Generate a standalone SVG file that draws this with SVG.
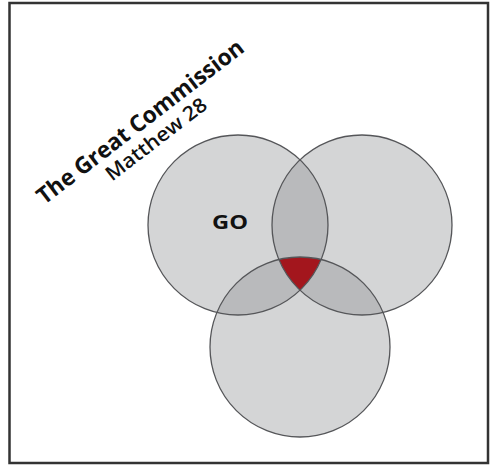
<svg xmlns="http://www.w3.org/2000/svg" width="490" height="466" viewBox="0 0 490 466">
<style>
.c{fill:#8b8c90;fill-opacity:0.37;stroke:none}
.o{fill:none;stroke:#555659;stroke-width:1.3}
.t1{font-family:"Open Sans","DejaVu Sans",sans-serif;font-weight:700;fill:#111}
.t2{font-family:"Open Sans","DejaVu Sans",sans-serif;font-weight:600;fill:#111}
</style>
<rect x="0" y="0" width="490" height="466" fill="#ffffff"/>
<rect x="9.5" y="3" width="478.5" height="460" fill="#ffffff" stroke="#333333" stroke-width="2.5"/>
<g id="circle-go">
<circle class="c" cx="238" cy="225" r="90"/>
</g>
<g id="circle-right">
<circle class="c" cx="362" cy="225" r="90"/>
</g>
<g id="circle-bottom">
<circle class="c" cx="300" cy="347" r="90"/>
</g>
<g id="center">
<path d="M278.9,259.5 A90,90 0 0 1 321.1,259.5 A90,90 0 0 1 300,290.2 A90,90 0 0 1 278.9,259.5 Z" fill="#a3161d"/>
</g>
<g id="outlines">
<circle class="o" cx="238" cy="225" r="90"/>
<circle class="o" cx="362" cy="225" r="90"/>
<circle class="o" cx="300" cy="347" r="90"/>
</g>
<text class="t1" x="230" y="228.5" font-size="19" text-anchor="middle" textLength="36" lengthAdjust="spacingAndGlyphs">GO</text>
<g id="title" transform="translate(145,128) rotate(-37.5)">
<text class="t1" x="0" y="0" font-size="23" text-anchor="middle" textLength="254" lengthAdjust="spacingAndGlyphs">The Great Commission</text>
<text class="t2" x="2" y="22.5" font-size="20" text-anchor="middle" textLength="122" lengthAdjust="spacingAndGlyphs">Matthew 28</text>
</g>
</svg>
